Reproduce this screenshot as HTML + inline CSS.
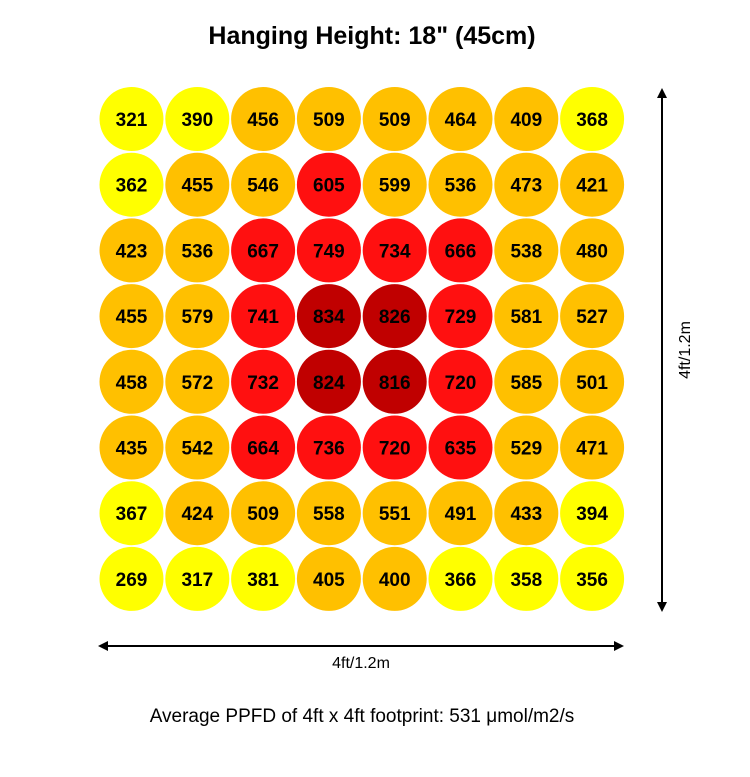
<!DOCTYPE html>
<html><head><meta charset="utf-8"><style>
body{margin:0;background:#fff;}
svg{display:block;font-family:"Liberation Sans",Arial,sans-serif;}
</style></head><body>
<svg id="chart" width="750" height="777" viewBox="0 0 750 777">
<text x="372" y="44" text-anchor="middle" font-size="25" font-weight="bold">Hanging Height: 18" (45cm)</text>
<g id="cells"></g>
<g>
<line x1="102" y1="646" x2="620" y2="646" stroke="#000" stroke-width="2"/>
<polygon points="98,646 108,641 108,651" fill="#000"/>
<polygon points="624,646 614,641 614,651" fill="#000"/>
</g>
<text x="361" y="668" text-anchor="middle" font-size="16">4ft/1.2m</text>
<g>
<line x1="662" y1="92" x2="662" y2="608" stroke="#000" stroke-width="2"/>
<polygon points="662,88 657,98 667,98" fill="#000"/>
<polygon points="662,612 657,602 667,602" fill="#000"/>
</g>
<text transform="translate(690,350) rotate(-90)" text-anchor="middle" font-size="16">4ft/1.2m</text>
<text x="362" y="722" text-anchor="middle" font-size="19">Average PPFD of 4ft x 4ft footprint: 531 μmol/m2/s</text>
</svg>
<script>
const rows = [0,1,2,3,4,5,6,7];
const cols = [0,1,2,3,4,5,6,7];
const values = [
[321,390,456,509,509,464,409,368],
[362,455,546,605,599,536,473,421],
[423,536,667,749,734,666,538,480],
[455,579,741,834,826,729,581,527],
[458,572,732,824,816,720,585,501],
[435,542,664,736,720,635,529,471],
[367,424,509,558,551,491,433,394],
[269,317,381,405,400,366,358,356]
];
const thresholds = [400,600,800];
const colors = ['#FFFF00','#FFC000','#FF1010','#C00000'];
function xPos(c){return 131.5 + c*65.8;}
function yPos(r){return 119 + r*65.7;}
function colorFor(v){let i=0;while(i<thresholds.length&&v>=thresholds[i])i++;return colors[i];}
const ns='http://www.w3.org/2000/svg';
const g=document.getElementById('cells');
rows.forEach(r=>cols.forEach(c=>{
const v=values[r][c];
const circ=document.createElementNS(ns,'circle');
circ.setAttribute('cx',xPos(c));circ.setAttribute('cy',yPos(r));circ.setAttribute('r',32);
circ.setAttribute('fill',colorFor(v));


g.appendChild(circ);
const t=document.createElementNS(ns,'text');
t.setAttribute('x',xPos(c));t.setAttribute('y',yPos(r)+7);
t.setAttribute('text-anchor','middle');t.setAttribute('font-size','19');t.setAttribute('font-weight','bold');
t.textContent=v;


g.appendChild(t);
}));
</script>
</body></html>
